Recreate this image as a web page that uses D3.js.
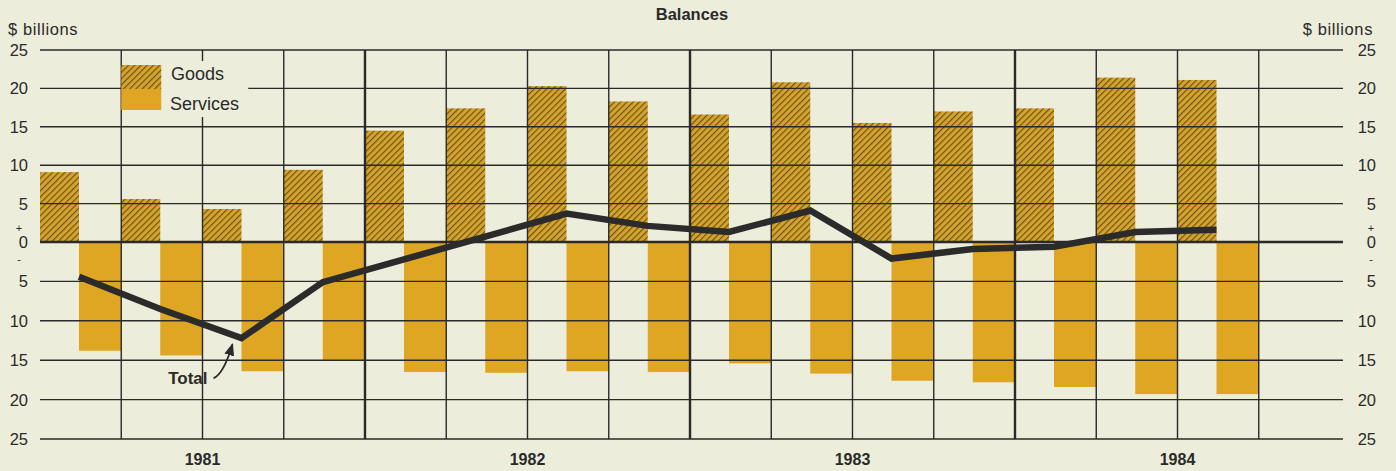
<!DOCTYPE html>
<html>
<head>
<meta charset="utf-8">
<script src="https://cdn.jsdelivr.net/npm/d3@7"></script>
<style>
  html, body { margin: 0; padding: 0; background: #ededdb; }
  svg { display: block; }
  text { font-family: "Liberation Sans", Arial, sans-serif; fill: #2a2a2a; }
</style>
</head>
<body>
<svg id="chart" width="1396" height="471"></svg>
<script>
// Quarterly balances, 1981 Q1 – 1984 Q3 ($ billions)
const years = ["1981", "1982", "1983", "1984"];
const goods = [9.1, 5.6, 4.3, 9.4, 14.5, 17.4, 20.3, 18.3, 16.6, 20.8, 15.5, 17.0, 17.4, 21.4, 21.1];
const services = [-13.8, -14.4, -16.4, -15.1, -16.5, -16.6, -16.4, -16.5, -15.4, -16.7, -17.6, -17.8, -18.4, -19.3, -19.3];
const total = [-4.4, -8.5, -12.2, -5.1, -2.2, 0.7, 3.7, 2.1, 1.3, 4.1, -2.1, -0.9, -0.6, 1.3, 1.6];
const yTicks = [25, 20, 15, 10, 5, 0, -5, -10, -15, -20, -25];
const tickLabels = ["25", "20", "15", "10", "5", "0", "5", "10", "15", "20", "25"];

const quarterCount = 16;
const split = 0.48; // goods bar fills the left part of a quarter, services the rest

const svg = d3.select("#chart");
const bg = "#ededdb";
const ink = "#2a2a2a";
const goodsBase = "#d3a52e";
const servicesFill = "#dfa623";

const x = d3.scaleLinear().domain([0, quarterCount]).range([40, 1340]);
const y = d3.scaleLinear().domain([-25, 0, 25]).range([439, 242, 50]);
const qw = x(1) - x(0);

// hatch pattern for goods
const defs = svg.append("defs");
const pat = defs.append("pattern")
  .attr("id", "hatch").attr("patternUnits", "userSpaceOnUse")
  .attr("width", 4.4).attr("height", 4.4)
  .attr("patternTransform", "rotate(45)");
pat.append("rect").attr("width", 4.4).attr("height", 4.4).attr("fill", goodsBase);
pat.append("line").attr("x1", 0.6).attr("y1", 0).attr("x2", 0.6).attr("y2", 4.4)
  .attr("stroke", "#6a4a12").attr("stroke-width", 1.1);

svg.append("rect").attr("width", 1396).attr("height", 471).attr("fill", bg);

// bars
svg.append("g").selectAll("rect").data(goods).join("rect")
  .attr("x", (d, i) => x(i))
  .attr("width", qw * split)
  .attr("y", d => y(d))
  .attr("height", d => y(0) - y(d))
  .attr("fill", "url(#hatch)");

svg.append("g").selectAll("rect").data(services).join("rect")
  .attr("x", (d, i) => x(i + split))
  .attr("width", qw * (1 - split))
  .attr("y", y(0))
  .attr("height", d => y(d) - y(0))
  .attr("fill", servicesFill);

// horizontal grid
svg.append("g").selectAll("line").data(yTicks).join("line")
  .attr("x1", 40).attr("x2", 1343)
  .attr("y1", d => y(d)).attr("y2", d => y(d))
  .attr("stroke", ink)
  .attr("stroke-width", d => d === 0 ? 2.6 : 1.4);

// vertical grid at quarter boundaries, heavier at year boundaries
const vLines = d3.range(1, quarterCount);
svg.append("g").selectAll("line").data(vLines).join("line")
  .attr("x1", d => x(d)).attr("x2", d => x(d))
  .attr("y1", y(25)).attr("y2", y(-25))
  .attr("stroke", ink)
  .attr("stroke-width", d => d % 4 === 0 ? 2.4 : 1.4);

// axis labels, both sides
const axisSides = [
  { xPos: 28, signX: 19 },
  { xPos: 1376, signX: 1371 }
];
axisSides.forEach(s => {
  svg.append("g").selectAll("text").data(yTicks).join("text")
    .attr("x", s.xPos).attr("y", d => y(d) + 6)
    .attr("text-anchor", "end")
    .attr("font-size", 16.5)
    .text((d, i) => tickLabels[i]);
  svg.append("text").attr("x", s.signX).attr("y", y(0) - 10)
    .attr("text-anchor", "middle").attr("font-size", 11).text("+");
  svg.append("text").attr("x", s.signX).attr("y", y(0) + 21)
    .attr("text-anchor", "middle").attr("font-size", 11).text("-");
});

svg.append("text").attr("x", 8).attr("y", 35).attr("font-size", 16.5)
  .attr("letter-spacing", 0.6).text("$ billions");
svg.append("text").attr("x", 1373).attr("y", 35).attr("text-anchor", "end")
  .attr("font-size", 16.5).attr("letter-spacing", 0.6).text("$ billions");

svg.append("text").attr("x", 692).attr("y", 20).attr("text-anchor", "middle")
  .attr("font-size", 16.5).attr("font-weight", "bold").text("Balances");

// year labels
svg.append("g").selectAll("text").data(years).join("text")
  .attr("x", (d, i) => x(i * 4 + 2)).attr("y", 465)
  .attr("text-anchor", "middle")
  .attr("font-size", 16).attr("font-weight", "bold")
  .text(d => d);

// legend
const lg = svg.append("g");
lg.append("rect").attr("x", x(1) + qw * split).attr("y", 61).attr("width", 88).attr("height", 56).attr("fill", bg);
lg.append("rect").attr("x", x(1)).attr("y", 65).attr("width", 40).attr("height", 24).attr("fill", "url(#hatch)");
lg.append("rect").attr("x", x(1)).attr("y", 89).attr("width", 40).attr("height", 21).attr("fill", servicesFill);
lg.append("text").attr("x", 171).attr("y", 80).attr("font-size", 18).text("Goods");
lg.append("text").attr("x", 170).attr("y", 110).attr("font-size", 18).text("Services");

// total balance line
const line = d3.line()
  .x((d, i) => x(i + split))
  .y(d => y(d));
svg.append("path").datum(total)
  .attr("d", line)
  .attr("fill", "none")
  .attr("stroke", "#2b2b2b")
  .attr("stroke-width", 6.5)
  .attr("stroke-linejoin", "miter");

// "Total" annotation pointing to the 1981 Q3 low
const px = x(2 + split), py = y(total[2]);
defs.append("marker").attr("id", "arrow")
  .attr("viewBox", "0 0 10 10").attr("refX", 9).attr("refY", 5)
  .attr("markerWidth", 7).attr("markerHeight", 7).attr("orient", "auto")
  .append("path").attr("d", "M0,1 L10,5 L0,9 Z").attr("fill", ink);
svg.append("path")
  .attr("d", `M${px - 28},${py + 40} Q${px - 18},${py + 36} ${px - 9},${py + 6}`)
  .attr("fill", "none").attr("stroke", ink).attr("stroke-width", 1.8)
  .attr("marker-end", "url(#arrow)");
svg.append("text").attr("x", px - 34).attr("y", py + 46)
  .attr("text-anchor", "end").attr("font-size", 17).attr("font-weight", "bold")
  .text("Total");
</script>
</body>
</html>
